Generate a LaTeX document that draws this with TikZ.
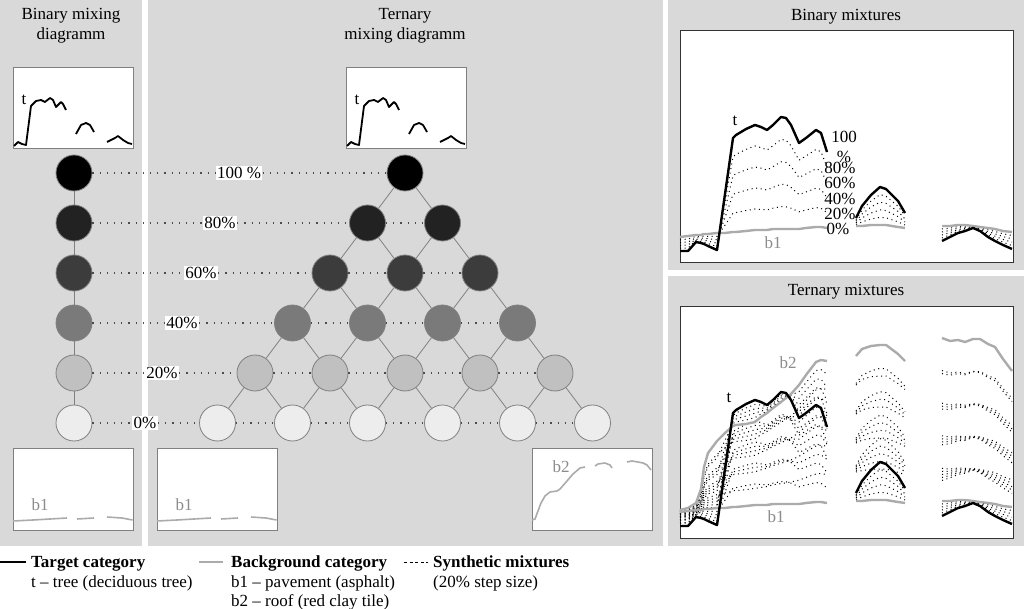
\documentclass[tikz,border=0pt]{standalone}
\usepackage{fontspec}
\setmainfont{Liberation Serif}
\usetikzlibrary{calc}

\definecolor{panel}{HTML}{D9D9D9}
\definecolor{rim}{HTML}{808080}
\definecolor{bgline}{HTML}{ABABAB}
\definecolor{bgtext}{HTML}{8C8C8C}
\definecolor{shade0}{HTML}{000000}
\definecolor{shade1}{HTML}{222222}
\definecolor{shade2}{HTML}{3C3C3C}
\definecolor{shade3}{HTML}{7A7A7A}
\definecolor{shade4}{HTML}{C0C0C0}
\definecolor{shade5}{HTML}{EDEDED}

% x / target t / background b1 / background b2 (one list per band)
\def\bandA{680/251/237/235, 688/251/236/233, 696/242/235/228, 701/243/235/214,
  704/244/234/192, 708/246/234/178, 717/250/233/166, 721/222/233/162,
  725/194/233/158, 733/138/232/151, 736/135/232/150, 746/129/231/149,
  755/125/230/147, 761/127/230/142, 767/130/230/138, 773/125/229/133,
  781/117/229/127, 786/118/229/123, 791/125/229/119, 799/143/229/110,
  806/138/228/100, 816/130/227/87, 821/133/227/85, 827/152/228/86}
\def\bandB{856/218/226/81, 862/206/226/74, 871/195/225/71, 880/187/225/70,
  886/189/225/70, 898/201/227/79, 905/213/228/86}
\def\bandC{942/241/226/63, 950/237/226/66, 958/233/225/65, 965/231/225/67,
  973/228/226/64, 980/231/227/64, 988/237/228/69, 995/241/229/72,
  1003/245/231/84, 1012/249/232/96}

% small spectra in the boxes of the mixing diagramms
\newcommand\treespec[1]{%
  \draw[target,line width=1.8pt] (1,79) -- (5,75) -- (9,77) -- (13,78) -- (18,39) -- (23,34)
    -- (28,33) -- (32,35) -- (37,31) -- (40,33) -- (43,40) -- (48,35) -- (50,37) -- (53,43);
  \draw[target,line width=1.8pt] (63,67) -- (68,58) -- (73,56) -- (77,58) -- (81,65);
  \draw[target,line width=1.8pt] (94,75) -- (102,71) -- (105,69) -- (110,73) -- (115,76) -- (119,77);
  \node (#1-t) at (11,33) {t};
}
\newcommand\pavespec[1]{%
  \draw[backgr,line width=1.6pt] (0,73) -- (20,72) -- (54,70);
  \draw[backgr,line width=1.6pt] (64,71) -- (81,70);
  \draw[backgr,line width=1.6pt] (94,69) -- (109,70) -- (119.5,72);
  \node[bglabel] (#1-b1) at (27,57) {b1};
}
\newcommand\roofspec[1]{%
  \draw[backgr,line width=1.6pt] (0,72) -- (3,71) -- (6,63) -- (9,55) -- (13,48) -- (18,44)
    -- (25,43) -- (28,41) -- (35,33) -- (41,26) -- (48,20) -- (53,19);
  \draw[backgr,line width=1.6pt] (63,18) -- (66,16) -- (73,15) -- (78,17) -- (80,20);
  \draw[backgr,line width=1.6pt] (95,14) -- (100,13) -- (106,14) -- (111,15) -- (115,17) -- (119,22);
  \node[bglabel] (#1-b2) at (29,19) {b2};
}

\begin{document}
\begin{tikzpicture}[x=1pt,y=-1pt,
  every node/.style={font=\fontsize{17}{20}\selectfont},
  ball/.style={circle,draw=rim,line width=0.8pt,minimum size=36pt,inner sep=0pt},
  rung/.style={draw=rim,line width=0.8pt},
  dotlink/.style={draw=black!70,line width=1.2pt,dash pattern=on 1.2pt off 6pt},
  pct/.style={fill=white,inner sep=1.5pt},
  minibox/.style={draw=rim,fill=white,line width=0.8pt},
  plotbox/.style={draw=black!80,fill=white,line width=1pt},
  target/.style={black,line width=2.4pt,line join=round},
  backgr/.style={bgline,line width=2.4pt,line join=round},
  mixline/.style={black,line width=1pt,dash pattern=on 1pt off 3.6pt},
  bglabel/.style={text=bgtext},
  legendhead/.style={anchor=base west,inner sep=0pt,font=\fontsize{17}{20}\selectfont\bfseries},
  legendtext/.style={anchor=base west,inner sep=0pt}]
\fill[white] (0,0) rectangle (1024,609);
\useasboundingbox (0,0) rectangle (1024,609);

% panels
\fill[panel] (0,0) rectangle (142,546);
\fill[panel] (148,0) rectangle (663,546);
\fill[panel] (668,0) rectangle (1024,270);
\fill[panel] (668,276) rectangle (1024,546);

\node[align=center,anchor=north,inner sep=0pt] (binhead) at (71,8) {Binary mixing\\diagramm};
\node[align=center,anchor=north,inner sep=0pt] (terhead) at (405,8) {Ternary\\mixing diagramm};
\node[anchor=base] (binmixhead) at (846,20.5) {Binary mixtures};
\node[anchor=base] (termixhead) at (846,295.5) {Ternary mixtures};

% spectra boxes
\begin{scope}[shift={(13,67)}]
  \draw[minibox] (0,0) rectangle (120,81);
  \treespec{tl}
\end{scope}
\begin{scope}[shift={(346,67)}]
  \draw[minibox] (0,0) rectangle (120,81);
  \treespec{tm}
\end{scope}
\begin{scope}[shift={(13,448)}]
  \draw[minibox] (0,0) rectangle (120,82);
  \pavespec{bl}
\end{scope}
\begin{scope}[shift={(157,448)}]
  \draw[minibox] (0,0) rectangle (120,82);
  \pavespec{bm}
\end{scope}
\begin{scope}[shift={(532,448)}]
  \draw[minibox] (0,0) rectangle (120,82);
  \roofspec{br}
\end{scope}

% mixing diagramms
\foreach \r in {0,...,5}{
  \node[ball,fill=shade\r] (L\r) at (74,173+50*\r) {};
  \foreach \i in {0,...,\r}
    \node[ball,fill=shade\r] (T\r\i) at (405+75*\i-37.5*\r,173+50*\r) {};
}
\foreach \r in {0,...,4}{
  \pgfmathtruncatemacro\rr{\r+1}
  \path (L\r) edge[rung] (L\rr);
  \foreach \i in {0,...,\r}{
    \pgfmathtruncatemacro\ii{\i+1}
    \path (T\r\i) edge[rung] (T\rr\i) edge[rung] (T\rr\ii);
  }
}
\foreach \r/\lx/\txt in {0/239/100 \%,1/220/80\%,2/201/60\%,3/182/40\%,4/162/20\%,5/145/0\%}{
  \node[pct] (P\r) at (\lx,173+50*\r) {\txt};
  \path (L\r) edge[dotlink] (P\r) (P\r) edge[dotlink] (T\r0);
  \ifnum\r>0
    \foreach \i [evaluate=\i as \j using int(\i-1)] in {1,...,\r}
      \path (T\r\j) edge[dotlink] (T\r\i);
  \fi
}

% mixture plots
\draw[plotbox] (680,31) rectangle (1013,263);
\draw[plotbox] (680,306) rectangle (1013,538);
\foreach \pan/\dy in {bin/0,ter/275}{
  \foreach \x/\yt/\yb/\yc [count=\i] in \bandA {
    \coordinate (\pan-t-A\i) at (\x,\yt+\dy);
    \coordinate (\pan-b-A\i) at (\x,\yb+\dy);
    \coordinate (\pan-c-A\i) at (\x,\yc+\dy);
  }
  \foreach \x/\yt/\yb/\yc [count=\i] in \bandB {
    \coordinate (\pan-t-B\i) at (\x,\yt+\dy);
    \coordinate (\pan-b-B\i) at (\x,\yb+\dy);
    \coordinate (\pan-c-B\i) at (\x,\yc+\dy);
  }
  \foreach \x/\yt/\yb/\yc [count=\i] in \bandC {
    \coordinate (\pan-t-C\i) at (\x,\yt+\dy);
    \coordinate (\pan-b-C\i) at (\x,\yb+\dy);
    \coordinate (\pan-c-C\i) at (\x,\yc+\dy);
  }
}
% binary: t with b1
\foreach \f in {0.2,0.4,0.6,0.8}
  \foreach \bd/\n in {A/24,B/7,C/10}
    \draw[mixline] ($(bin-b-\bd1)!\f!(bin-t-\bd1)$)
      \foreach \i in {2,...,\n} {-- ($(bin-b-\bd\i)!\f!(bin-t-\bd\i)$)};
% ternary: t, b1 and b2
\foreach \a/\lo/\hi in {0/1/4,1/0/4,2/0/3,3/0/2,4/0/1}
  \foreach \k in {\lo,...,\hi}{
    \pgfmathsetmacro\fa{\a/5}
    \pgfmathsetmacro\fc{\k/5}
    \foreach \bd/\n in {A/24,B/7,C/10}
      \draw[mixline] ($(ter-b-\bd1)!\fa!(ter-t-\bd1)+\fc*(ter-c-\bd1)-\fc*(ter-b-\bd1)$)
        \foreach \i in {2,...,\n} {-- ($(ter-b-\bd\i)!\fa!(ter-t-\bd\i)+\fc*(ter-c-\bd\i)-\fc*(ter-b-\bd\i)$)};
  }
\foreach \bd/\n in {A/24,B/7,C/10}{
  \draw[backgr] (bin-b-\bd1) \foreach \i in {2,...,\n} {-- (bin-b-\bd\i)};
  \draw[target] (bin-t-\bd1) \foreach \i in {2,...,\n} {-- (bin-t-\bd\i)};
  \draw[backgr] (ter-b-\bd1) \foreach \i in {2,...,\n} {-- (ter-b-\bd\i)};
  \draw[backgr] (ter-c-\bd1) \foreach \i in {2,...,\n} {-- (ter-c-\bd\i)};
  \draw[target] (ter-t-\bd1) \foreach \i in {2,...,\n} {-- (ter-t-\bd\i)};
}
\node (bin-tl) at (735,121) {t};
\node[bglabel] (bin-b1l) at (773,243) {b1};
\node[align=center,inner sep=0pt] (bin100) at (844,147) {100\\\%};
\node[inner sep=0pt] (bin80) at (840,168) {80\%};
\node[inner sep=0pt] (bin60) at (840,183) {60\%};
\node[inner sep=0pt] (bin40) at (840,199) {40\%};
\node[inner sep=0pt] (bin20) at (840,214) {20\%};
\node[inner sep=0pt] (bin0) at (838,229) {0\%};
\node (ter-tl) at (729,398) {t};
\node[bglabel] (ter-b2l) at (788,363) {b2};
\node[bglabel] (ter-b1l) at (776,517) {b1};

% legend
\draw[target,line width=2pt] (0,562) -- (26,562);
\node[legendhead] (leg-t) at (31,567) {Target category};
\node[legendtext] (leg-tt) at (31,587) {t – tree (deciduous tree)};
\draw[backgr,line width=2pt] (199,562) -- (223,562);
\node[legendhead] (leg-b) at (231,567) {Background category};
\node[legendtext] (leg-b1) at (231,587) {b1 – pavement (asphalt)};
\node[legendtext] (leg-b2) at (231,606) {b2 – roof (red clay tile)};
\draw[black,line width=1pt,dash pattern=on 3pt off 2.5pt] (404,562) -- (428,562);
\node[legendhead] (leg-m) at (433,567) {Synthetic mixtures};
\node[legendtext] (leg-mm) at (433,587) {(20\% step size)};
\end{tikzpicture}
\end{document}
